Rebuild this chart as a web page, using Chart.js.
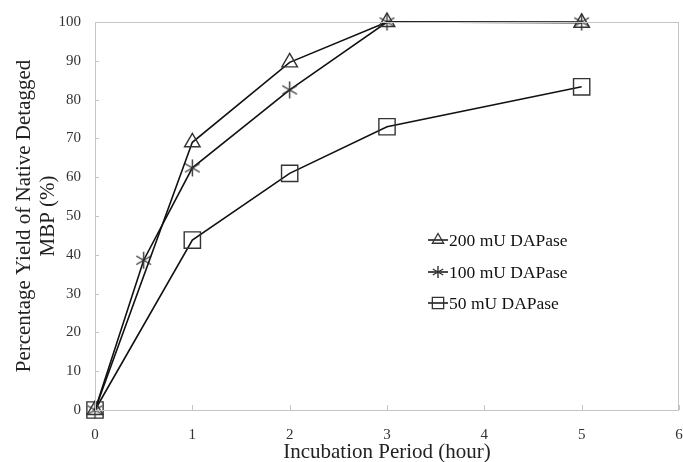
<!DOCTYPE html>
<html><head><meta charset="utf-8">
<script src="https://cdn.jsdelivr.net/npm/chart.js@4/dist/chart.umd.min.js"></script>
<style>html,body{margin:0;padding:0;background:#fff}#wrap{width:683px;height:462px}</style>
</head><body><div id="wrap"><canvas id="c" width="683" height="462"></canvas></div>
<script>
const xTicks = [0,1,2,3,4,5,6];
const yTicks = [0,10,20,30,40,50,60,70,80,90,100];
const seriesNames = ['200 mU DAPase','100 mU DAPase','50 mU DAPase'];
const hours200 = [0,1,2,3,5];
const yield200 = [0,69,89.6,100,99.8];
const hours100 = [0,0.5,1,2,3,5];
const yield100 = [0,38.6,62.4,82.5,100,100];
const hours50 = [0,1,2,3,5];
const yield50 = [0,43.8,61,73,83.3];

function asterisk(size){
  const c=document.createElement('canvas');c.width=size;c.height=size;
  const g=c.getContext('2d');g.strokeStyle='#333';g.lineWidth=1.4;
  const m=size/2,r=size/2-1;
  g.beginPath();
  g.moveTo(m,m-r);g.lineTo(m,m+r);
  const a=Math.PI/6;
  g.moveTo(m-r*Math.cos(a),m-r*Math.sin(a));g.lineTo(m+r*Math.cos(a),m+r*Math.sin(a));
  g.moveTo(m-r*Math.cos(a),m+r*Math.sin(a));g.lineTo(m+r*Math.cos(a),m-r*Math.sin(a));
  g.stroke();return c;
}
const starBig=asterisk(19), starSmall=asterisk(14);
const pts=(xs,ys)=>xs.map((x,i)=>({x:x,y:ys[i]}));

const boxPlugin={id:'box',afterDraw(ch){
  const {ctx,chartArea:a,scales:{x,y}}=ch;
  ctx.save();ctx.strokeStyle='#c4c4c4';ctx.lineWidth=1;
  ctx.strokeRect(a.left+0.5,a.top+0.5,a.right-a.left-1,a.bottom-a.top);
  ctx.beginPath();
  xTicks.forEach(v=>{const px=Math.round(x.getPixelForValue(v))+0.5;ctx.moveTo(px,a.bottom);ctx.lineTo(px,a.bottom-5);});
  yTicks.forEach(v=>{const py=Math.round(y.getPixelForValue(v))+0.5;ctx.moveTo(a.left,py);ctx.lineTo(a.left+4,py);});
  ctx.stroke();
  // legend
  const lx=428, ly=[240,272,303];
  ch.data.datasets.forEach((ds,i)=>{
    ctx.strokeStyle='#111';ctx.lineWidth=1.5;
    ctx.beginPath();ctx.moveTo(lx,ly[i]);ctx.lineTo(lx+20,ly[i]);ctx.stroke();
    ctx.strokeStyle='#333';ctx.lineWidth=1.3;ctx.fillStyle='rgba(0,0,0,0)';
    const cx=lx+10,cy=ly[i];
    if(i===0){Chart.helpers.drawPoint(ctx,{pointStyle:'triangle',radius:6.5,borderWidth:1.3},cx,cy);}
    else if(i===1){ctx.drawImage(starSmall,cx-7,cy-7);}
    else {Chart.helpers.drawPoint(ctx,{pointStyle:'rect',radius:8,borderWidth:1.3},cx,cy);}
    ctx.fillStyle='#111';ctx.font='17.5px "Liberation Serif"';ctx.textBaseline='middle';ctx.textAlign='left';
    ctx.fillText(ds.label,lx+21,cy+1);
  });
  ctx.restore();
}};

new Chart(document.getElementById('c'),{
  type:'scatter',
  data:{datasets:[
    {label:seriesNames[0],data:pts(hours200,yield200),showLine:true,clip:false,borderColor:'#111',borderWidth:1.6,pointStyle:'triangle',pointRadius:9,pointBorderColor:'#333',pointBorderWidth:1.4,pointBackgroundColor:'rgba(0,0,0,0)'},
    {label:seriesNames[1],data:pts(hours100,yield100),showLine:true,clip:false,borderColor:'#111',borderWidth:1.6,pointStyle:starBig,pointRadius:9,pointBackgroundColor:'rgba(0,0,0,0)'},
    {label:seriesNames[2],data:pts(hours50,yield50),showLine:true,clip:false,borderColor:'#111',borderWidth:1.6,pointStyle:'rect',pointRadius:11.5,pointBorderColor:'#333',pointBorderWidth:1.4,pointBackgroundColor:'rgba(0,0,0,0)'}
  ]},
  options:{
    responsive:false,animation:false,
    layout:{autoPadding:false,padding:{top:22,right:4,left:12,bottom:0}},
    plugins:{legend:{display:false},tooltip:{enabled:false}},
    scales:{
      x:{type:'linear',min:0,max:6,
        afterBuildTicks:s=>{s.ticks=xTicks.map(v=>({value:v}));},
        afterFit:s=>{s.height=52;s.paddingRight=0;s.paddingLeft=0;},
        grid:{display:false},border:{display:false},
        ticks:{color:'#333',font:{family:'Liberation Serif',size:15},padding:8},
        title:{display:true,text:'Incubation Period (hour)',color:'#222',font:{family:'Liberation Serif',size:21},padding:{top:0,bottom:-3}}},
      y:{type:'linear',min:0,max:100,
        afterBuildTicks:s=>{s.ticks=yTicks.map(v=>({value:v}));},
        afterFit:s=>{s.width=83;s.paddingTop=0;s.paddingBottom=0;},
        grid:{display:false},border:{display:false},
        ticks:{color:'#333',font:{family:'Liberation Serif',size:15},padding:6},
        title:{display:true,text:['Percentage Yield of Native Detagged','MBP (%)'],color:'#222',font:{family:'Liberation Serif',size:21,lineHeight:1.15},padding:{top:0,bottom:4}}}
    }
  },
  plugins:[boxPlugin]
});
</script></body></html>
